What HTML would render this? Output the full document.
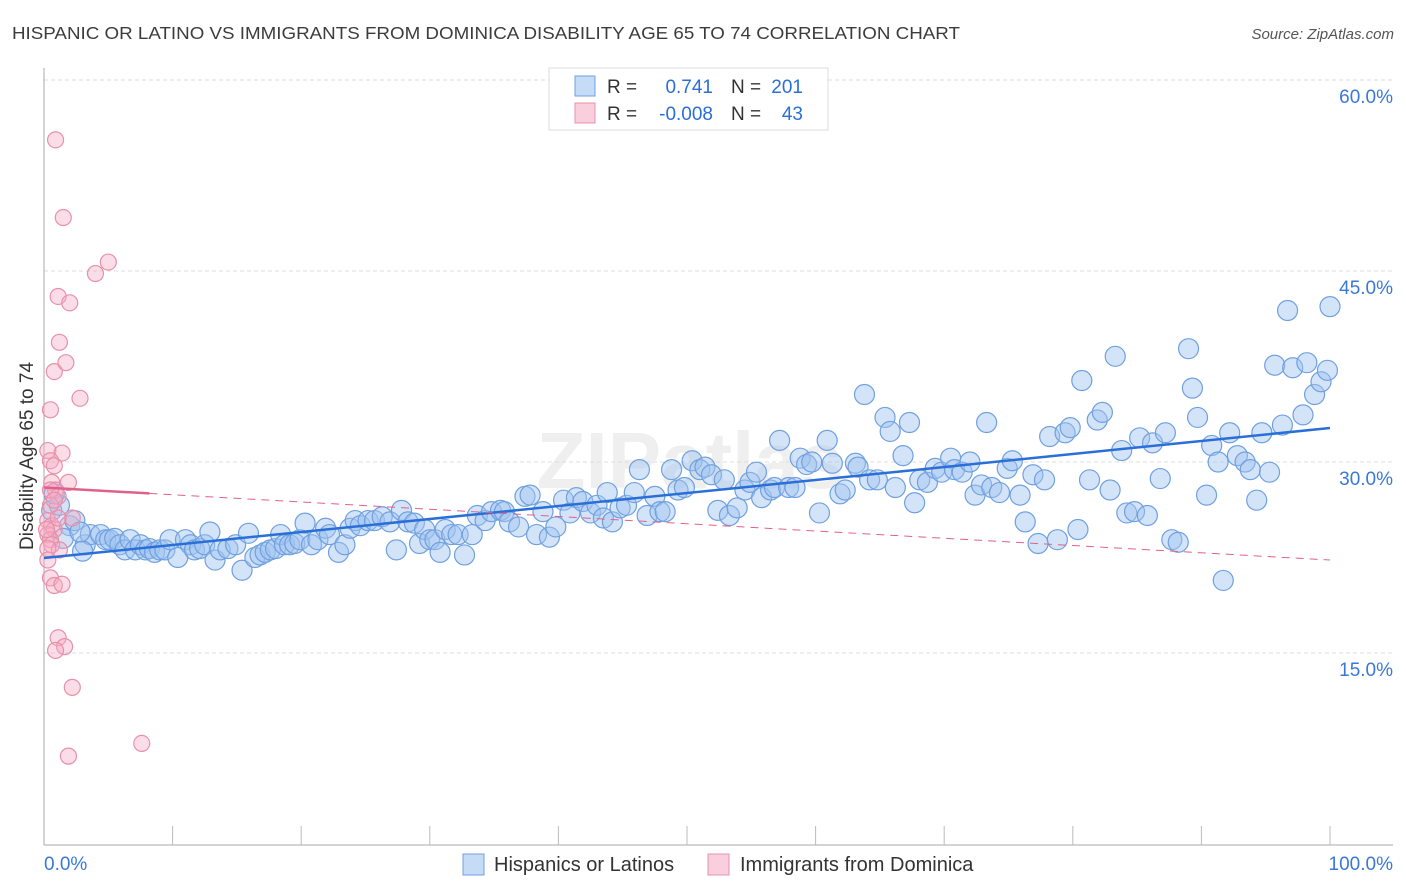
<!DOCTYPE html>
<html><head><meta charset="utf-8"><style>
body{margin:0;background:#fff;font-family:"Liberation Sans",sans-serif}
svg{display:block}
</style></head><body>
<svg id="chart" width="1406" height="892" xmlns="http://www.w3.org/2000/svg">
<text x="12" y="39" font-size="17.5" fill="#3c3c3c" textLength="948" lengthAdjust="spacingAndGlyphs" font-family="Liberation Sans, sans-serif">HISPANIC OR LATINO VS IMMIGRANTS FROM DOMINICA DISABILITY AGE 65 TO 74 CORRELATION CHART</text>
<text x="1394" y="39" font-size="15" fill="#555" text-anchor="end" font-style="italic">Source: ZipAtlas.com</text>
<text x="690" y="488" font-size="80" fill="#000" opacity="0.06" text-anchor="middle" font-weight="bold">ZIPatlas</text>
<g id="grid"></g>
<g id="axes"></g>
<g id="pts"></g>
<g id="lines"></g>
<text transform="translate(33,456) rotate(-90)" font-size="19" fill="#333" text-anchor="middle">Disability Age 65 to 74</text>
<g>
<rect x="549" y="68" width="279" height="62" fill="#fff" stroke="#ddd"/>
<rect x="575" y="76" width="20" height="20" fill="rgba(160,195,240,0.6)" stroke="#6fa0e0"/>
<rect x="575" y="103" width="20" height="20" fill="rgba(245,175,200,0.6)" stroke="#e890aa"/>
<text x="607" y="93" font-size="19" fill="#333">R =</text>
<text x="713" y="93" font-size="19" fill="#2a6fd8" text-anchor="end">0.741</text>
<text x="731" y="93" font-size="19" fill="#333">N =</text>
<text x="803" y="93" font-size="19" fill="#2a6fd8" text-anchor="end">201</text>
<text x="607" y="120" font-size="19" fill="#333">R =</text>
<text x="713" y="120" font-size="19" fill="#2a6fd8" text-anchor="end">-0.008</text>
<text x="731" y="120" font-size="19" fill="#333">N =</text>
<text x="803" y="120" font-size="19" fill="#2a6fd8" text-anchor="end">43</text>
</g>
<g>
<rect x="463" y="854" width="21" height="21" fill="rgba(160,195,240,0.6)" stroke="#6fa0e0"/>
<text x="494" y="871" font-size="20" fill="#333">Hispanics or Latinos</text>
<rect x="708" y="854" width="21" height="21" fill="rgba(245,175,200,0.6)" stroke="#e890aa"/>
<text x="740" y="871" font-size="20" fill="#333">Immigrants from Dominica</text>
</g>
</svg>
<script>
const yTicks=[15,30,45,60];
const xTickLabels=["0.0%","100.0%"];
const blueX=[0.6,1.2,2.0,2.4,3.2,3.6,4.4,4.8,5.1,5.5,5.9,6.3,6.7,7.1,7.5,7.9,8.2,8.6,9.0,9.4,9.8,10.4,11.0,11.4,11.7,12.1,12.5,12.9,13.3,13.7,14.3,14.9,15.4,15.9,16.4,16.8,17.2,17.6,18.0,18.4,18.7,19.1,19.5,19.9,20.3,20.8,21.3,21.9,22.2,22.9,23.4,23.8,24.2,24.6,25.2,25.7,26.3,26.9,27.4,27.8,28.3,28.8,29.2,29.6,30.0,30.4,30.8,31.2,31.7,32.2,32.7,33.3,33.7,34.3,34.8,35.5,35.8,36.2,36.9,37.4,37.8,38.3,38.8,39.3,39.8,40.4,40.9,41.4,41.9,42.5,43.0,43.5,43.8,44.2,44.8,45.3,45.9,46.3,46.9,47.5,47.9,48.3,48.8,49.3,49.8,50.4,51.0,51.4,51.9,52.4,52.9,53.3,53.9,54.5,54.9,55.4,55.8,56.5,56.8,57.2,57.9,58.4,58.8,59.3,59.7,60.3,60.9,61.3,61.9,62.3,63.1,63.3,63.8,64.2,64.8,65.4,65.8,66.2,66.8,67.3,67.7,68.1,68.7,69.3,69.8,70.5,70.8,71.4,72.0,72.4,72.9,73.3,73.7,74.3,74.9,75.3,75.9,76.3,76.9,77.3,77.8,78.2,78.8,79.4,79.8,80.4,80.7,81.3,81.9,82.3,82.9,83.3,83.8,84.2,84.8,85.2,85.8,86.2,86.8,87.2,87.7,88.2,89.0,89.3,89.7,90.4,90.8,91.3,91.7,92.2,92.8,93.4,93.8,94.3,94.7,95.3,95.7,96.3,96.7,97.1,97.9,98.2,98.8,99.3,99.8,100.0,1.5,3.0,0.8,2.8];
const blueY=[26.2,26.6,25.0,25.4,23.5,24.3,24.3,23.9,23.9,24.0,23.5,23.1,23.9,23.1,23.5,23.1,23.2,22.9,23.1,23.1,23.9,22.5,23.9,23.5,23.1,23.2,23.5,24.5,22.3,23.1,23.2,23.5,21.5,24.4,22.5,22.7,22.9,23.1,23.2,24.3,23.5,23.5,23.6,23.9,25.2,23.5,23.9,24.8,24.3,22.9,23.5,24.8,25.4,25.0,25.4,25.4,25.7,25.3,23.1,26.2,25.3,25.2,23.6,24.7,23.9,23.9,22.9,24.7,24.3,24.3,22.7,24.3,25.8,25.4,26.1,26.2,26.1,25.3,24.9,27.3,27.4,24.3,26.1,24.1,24.9,27.0,26.0,27.2,26.9,26.0,26.6,25.6,27.6,25.3,26.4,26.6,27.6,29.4,25.8,27.3,26.1,26.1,29.4,27.8,28.0,30.1,29.4,29.6,29.0,26.2,28.6,25.8,26.4,27.8,28.4,29.2,27.2,27.8,28.0,31.7,28.0,28.0,30.3,29.8,30.0,26.0,31.7,29.9,27.5,27.8,29.9,29.6,35.3,28.6,28.6,33.5,32.4,28.0,30.5,33.1,26.8,28.6,28.4,29.5,29.2,30.3,29.4,29.2,30.0,27.4,28.2,33.1,28.0,27.6,29.5,30.1,27.4,25.3,29.0,23.6,28.6,32.0,23.9,32.3,32.7,24.7,36.4,28.6,33.3,33.9,27.8,38.3,30.9,26.0,26.1,31.9,25.8,31.5,28.7,32.3,23.9,23.7,38.9,35.8,33.5,27.4,31.3,30.0,20.7,32.3,30.5,30.0,29.4,27.0,32.3,29.2,37.6,32.9,41.9,37.4,33.7,37.8,35.3,36.3,37.2,42.2,24.0,23.0,27.5,24.5];
const pinkX=[0.9,1.5,4.0,5.0,1.1,2.0,1.2,0.8,1.7,2.8,0.5,0.3,1.4,0.5,0.8,0.6,1.9,0.9,1.1,0.5,2.2,0.3,0.6,0.8,0.3,0.5,0.6,1.2,0.3,0.5,0.8,1.4,1.1,1.6,0.9,2.2,1.9,7.6,0.5,0.8,0.2,0.3,1.1];
const pinkY=[55.3,49.2,44.8,45.7,43.0,42.5,39.4,37.1,37.8,35.0,34.1,30.9,30.7,30.1,29.7,28.4,28.4,27.8,27.3,26.6,25.6,25.4,25.0,24.7,24.3,23.9,23.5,23.1,23.2,20.9,20.3,20.4,16.2,15.5,15.2,12.3,6.9,7.9,27.8,27.0,24.7,22.3,25.6];
const blueTrend=[22.46,32.67];
const pinkTrend=[28.0,22.3];
const pinkSolidEnd=8.2;

const NS="http://www.w3.org/2000/svg";
const X0=44,X1=1330,YB=844,PXPER=191/15;
function sx(v){return X0+(X1-X0)*v/100;}
function sy(v){return YB-v*PXPER;}
function mk(tag,attrs,parent){const e=document.createElementNS(NS,tag);for(const k in attrs)e.setAttribute(k,attrs[k]);parent.appendChild(e);return e;}
const grid=document.getElementById('grid'),axes=document.getElementById('axes'),pts=document.getElementById('pts'),lines=document.getElementById('lines');
yTicks.forEach(t=>{
  const l=mk('line',{x1:44,x2:1393,y1:sy(t),y2:sy(t),stroke:'#ddd','stroke-dasharray':'4,3'},grid);
  
  
  const tx=mk('text',{x:1393,y:sy(t)+23,'font-size':19,fill:'#3a78d8','text-anchor':'end'},grid);
  tx.textContent=t.toFixed(1)+'%';
  
  
});
const ya=mk('line',{x1:44,x2:44,y1:68,y2:845,stroke:'#aaa'},axes);


const xa=mk('line',{x1:44,x2:1393,y1:845,y2:845,stroke:'#aaa'},axes);


for(let i=1;i<=10;i++){
  const tk=mk('line',{x1:sx(i*10),x2:sx(i*10),y1:826,y2:845,stroke:'#bbb'},axes);
  
  
}
const xl0=mk('text',{x:44,y:870,'font-size':19,fill:'#3a78d8'},axes);xl0.textContent=xTickLabels[0];


const xl1=mk('text',{x:1393,y:870,'font-size':19,fill:'#3a78d8','text-anchor':'end'},axes);xl1.textContent=xTickLabels[1];


blueX.forEach((v,i)=>{
  const c=mk('circle',{cx:sx(v),cy:sy(blueY[i]),r:10,fill:'rgba(160,195,240,0.45)',stroke:'#6fa0e0','stroke-width':1.2},pts);
  
  
});
pinkX.forEach((v,i)=>{
  const c=mk('circle',{cx:sx(v),cy:sy(pinkY[i]),r:8,fill:'rgba(245,170,195,0.4)',stroke:'#e890aa','stroke-width':1.2},pts);
  
  
});
const bl=mk('line',{x1:sx(0),y1:sy(blueTrend[0]),x2:sx(100),y2:sy(blueTrend[1]),stroke:'#2a6fd8','stroke-width':2.5},lines);


const pAt=v=>pinkTrend[0]+(pinkTrend[1]-pinkTrend[0])*v/100;
const pl=mk('line',{x1:sx(0),y1:sy(pinkTrend[0]),x2:sx(pinkSolidEnd),y2:sy(pAt(pinkSolidEnd)),stroke:'#e0608a','stroke-width':2.5},lines);


const pd=mk('line',{x1:sx(pinkSolidEnd),y1:sy(pAt(pinkSolidEnd)),x2:sx(100),y2:sy(pinkTrend[1]),stroke:'#e0608a','stroke-width':1,'stroke-dasharray':'8,6'},lines);


</script>
</body></html>
